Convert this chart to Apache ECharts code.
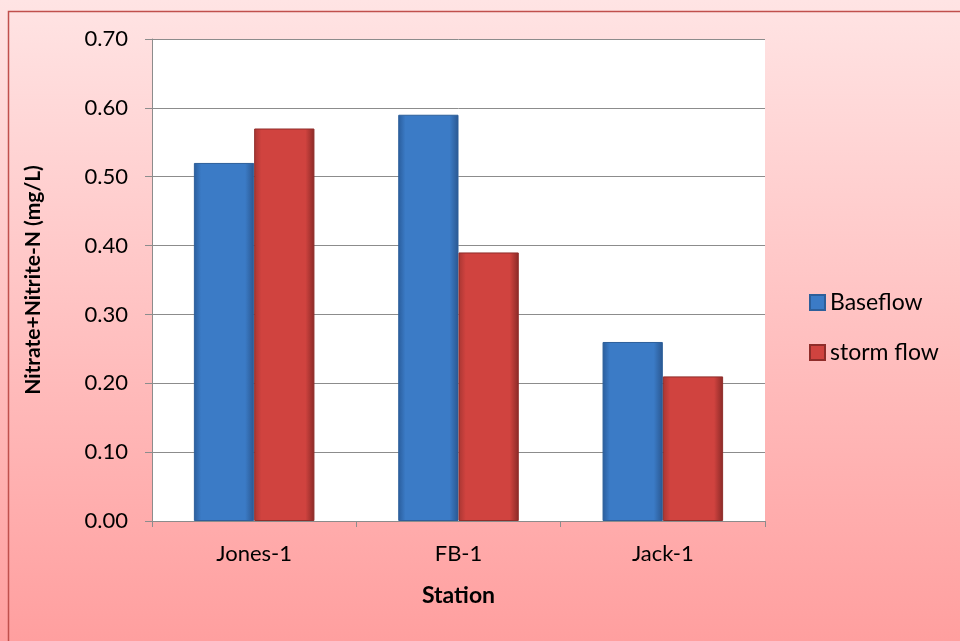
<!DOCTYPE html>
<html>
<head>
<meta charset="utf-8">
<script src="https://cdn.jsdelivr.net/npm/echarts@6/dist/echarts.min.js"></script>
<style>
html,body{margin:0;padding:0;}
#c{width:960px;height:641px;}
</style>
</head>
<body>
<div id="c"></div>
<script>
var categories = ["Jones-1", "FB-1", "Jack-1"];
var baseflow = [0.52, 0.59, 0.26];
var stormflow = [0.57, 0.39, 0.21];
var seriesNames = ["Baseflow", "storm flow"];
var yTitle = "Nitrate+Nitrite-N (mg/L)";
var xTitle = "Station";

var FONT = "Lato, 'Open Sans', sans-serif";
function hGrad(a, b, c) {
  return new echarts.graphic.LinearGradient(0, 0, 1, 0, [
    {offset: 0, color: a}, {offset: 0.12, color: b}, {offset: 0.85, color: b}, {offset: 1, color: c}
  ]);
}
var chart = echarts.init(document.getElementById('c'));
chart.setOption({
  backgroundColor: new echarts.graphic.LinearGradient(0, 0, 0, 1, [
    {offset: 0, color: '#ffe4e4'}, {offset: 1, color: '#ff9f9f'}
  ]),
  animation: false,
  graphic: [{
    type: 'rect', left: 6, top: 9, shape: {width: 1000, height: 700},
    style: {fill: 'none', stroke: '#c0504d', lineWidth: 1.5}, silent: true
  }],
  grid: {left: 152, right: 195, top: 39, bottom: 120, backgroundColor: '#ffffff', show: true, borderWidth: 0},
  legend: {
    orient: 'vertical', left: 804, top: 286, itemGap: 27, itemWidth: 15, itemHeight: 15,
    icon: 'rect', textStyle: {fontFamily: FONT, fontSize: 23, color: '#000'},
    data: seriesNames
  },
  xAxis: {
    type: 'category', data: categories,
    name: xTitle, nameLocation: 'middle', nameGap: 63,
    nameTextStyle: {fontFamily: FONT, fontSize: 23, fontWeight: 'bold', color: '#000'},
    axisLine: {lineStyle: {color: '#8c8c8c', width: 1}},
    axisTick: {show: true, length: 6, lineStyle: {color: '#8c8c8c'}},
    axisLabel: {fontFamily: FONT, fontSize: 22, color: '#000', margin: 22}
  },
  yAxis: {
    type: 'value', min: 0, max: 0.7, interval: 0.1,
    name: yTitle, nameLocation: 'middle', nameGap: 108, nameRotate: 90,
    nameTextStyle: {fontFamily: FONT, fontSize: 21, fontWeight: 'bold', color: '#000'},
    axisLine: {show: true, lineStyle: {color: '#8c8c8c', width: 1}},
    axisTick: {show: true, length: 7, lineStyle: {color: '#8c8c8c'}},
    axisLabel: {fontFamily: FONT, fontSize: 22, color: '#000', margin: 24,
      formatter: function (v) { return v.toFixed(2); }},
    splitLine: {lineStyle: {color: '#8c8c8c', width: 1}}
  },
  series: [{
    name: seriesNames[0], type: 'bar', data: baseflow,
    barGap: '0%', barCategoryGap: '41%',
    itemStyle: {color: hGrad('#2a5d9c', '#3b7bc6', '#2a5790'), borderColor: '#2d5f9a', borderWidth: 1}
  }, {
    name: seriesNames[1], type: 'bar', data: stormflow,
    itemStyle: {color: hGrad('#a83633', '#d0433f', '#8a2a27'), borderColor: '#8f2d2a', borderWidth: 1}
  }]
});
</script>
</body>
</html>
